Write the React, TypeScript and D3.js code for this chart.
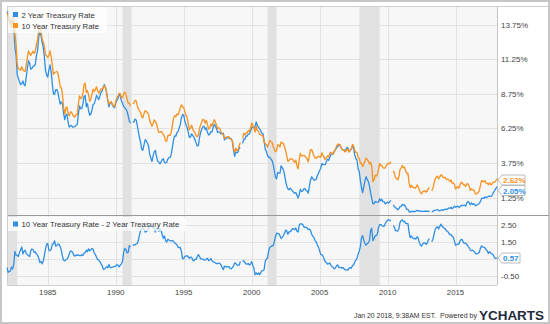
import React from 'react';
import * as d3 from 'd3';

// Monthly values starting January 1982 (null = missing data in the source chart)
const START_YEAR = 1982;
const LAST_DATE = 2018.05;
const t2Monthly: (number | null)[] = [
  14.57, 14.69, 14.06, 14.05, 13.58, 14.36, 13.70, 12.09, 11.59, 10.16, 9.88, 9.64,
  9.40, 9.49, 9.69, 9.42, 9.34, 10.00, 10.60, 11.14, 10.98, 10.53, 10.58, 10.75,
  10.76, 10.90, 11.51, 11.89, 12.83, 13.24, 12.98, 12.48, 12.13, 11.42, 10.45, 10.11,
  9.96, 10.49, 10.85, 10.34, 9.46, 8.75, 8.72, 9.05, 9.06, 8.84, 8.40, 8.02,
  8.16, 8.02, 7.33, 6.89, 7.23, 7.28, 6.68, 6.35, 6.46, 6.45, 6.35, 6.37,
  6.39, 6.49, 6.52, 7.26, 7.89, 7.68, 7.68, 8.03, 8.55, 8.63, 7.82, 8.04,
  7.55, 7.21, 7.30, 7.58, 8.00, 8.03, 8.28, 8.64, 8.49, 8.34, 8.59, 8.87,
  8.95, 9.25, 9.43, 9.18, 8.78, 8.27, 7.81, 8.09, 8.17, 7.97, 7.81, 7.75,
  8.12, 8.27, 8.42, 8.73, 8.60, 8.24, 8.08, 7.83, 7.75, 7.64, 7.51, 7.17,
  6.79, 6.63, null, 6.72, 6.71, 6.93, 6.87, 6.47, 6.03, 5.58, 5.22, 4.74,
  4.68, 5.09, 5.44, 5.35, 5.20, 4.95, 4.38, 4.11, 3.87, 4.27, 4.56, 4.67,
  4.24, 3.88, 3.83, 3.69, 3.85, 4.00, 4.07, 3.81, 3.76, 3.81, 4.04, 4.14,
  4.16, 4.38, 4.87, 5.41, 5.72, 5.69, 5.94, 6.02, 6.28, 6.54, 7.01, 7.26,
  7.24, 6.79, 6.51, 6.34, 5.99, 5.60, 5.64, 5.87, 5.75, 5.62, 5.42, 5.21,
  4.99, 5.03, 5.60, 5.98, 6.21, 6.39, 6.41, 6.17, 6.30, 5.97, 5.78, 5.83,
  6.03, 6.00, 6.33, 6.56, 6.42, 6.24, 5.96, 6.01, 5.96, 5.86, 5.86, 5.91,
  5.43, 5.51, 5.57, 5.58, 5.58, 5.53, 5.51, 5.32, 4.69, 4.24, 4.56, 4.49,
  4.56, 4.84, 4.85, null, 5.17, 5.48, 5.47, 5.71, 5.70, 5.85, 5.86, 6.06,
  6.29, 6.37, 6.28, 6.39, 6.73, 6.48, 6.34, 6.23, 6.08, 5.91, 5.88, 5.35,
  4.76, 4.59, 4.31, 4.16, 4.18, 4.03, 3.94, 3.67, 3.21, 2.74, 2.61, 3.07,
  3.03, 3.02, 3.56, 3.42, 3.26, 2.91, 2.43, 2.10, 1.90, 1.82, 1.94, 1.85,
  1.74, 1.63, 1.57, 1.62, 1.42, 1.23, 1.47, 1.86, 1.70, 1.73, 1.89, 1.91,
  1.76, 1.74, 1.58, 2.07, 2.53, 2.76, 2.64, 2.51, 2.53, 2.58, 2.85, 3.01,
  3.22, 3.38, 3.73, 3.65, 3.64, 3.64, 3.87, 4.04, 3.95, 4.17, 4.39, 4.40,
  4.40, 4.62, 4.72, 4.86, 4.93, 5.09, 5.07, 4.85, 4.73, 4.71, 4.69, 4.67,
  4.88, 4.85, 4.57, 4.67, 4.77, 4.96, 4.82, 4.34, 4.06, 3.97, 3.34, 3.12,
  2.48, 1.97, 1.62, 2.05, 2.45, 2.77, 2.57, 2.42, 2.08, 1.61, 1.21, 0.82,
  0.81, 0.98, 0.93, 0.93, 0.93, 1.18, 1.02, 1.12, 0.96, 0.95, 0.80, 0.87,
  0.93, 0.86, 0.96, 1.06, null, 0.72, 0.62, 0.52, 0.48, 0.38, 0.45, 0.62,
  0.61, 0.77, 0.70, 0.73, 0.56, 0.41, 0.41, 0.23, 0.20, 0.28, 0.25, 0.26,
  0.24, 0.28, 0.34, 0.29, 0.29, 0.29, 0.25, 0.27, 0.26, 0.28, 0.27, 0.26,
  0.27, 0.27, null, 0.23, 0.25, 0.33, 0.34, 0.36, 0.40, 0.34, 0.30, 0.34,
  0.39, 0.33, 0.40, 0.42, 0.39, 0.45, 0.51, 0.47, 0.57, 0.45, 0.53, 0.64,
  0.55, 0.62, 0.64, 0.54, 0.61, 0.69, 0.67, 0.70, 0.71, 0.64, 0.88, 0.98,
  0.90, 0.73, 0.88, 0.77, 0.82, 0.73, 0.67, 0.74, 0.77, 0.84, 0.98, 1.20,
  1.21, 1.20, 1.31, 1.24, 1.30, 1.34, 1.37, 1.34, 1.38, 1.56, 1.70, 1.84,
];
const t10Monthly: (number | null)[] = [
  14.59, 14.43, 13.86, 13.87, 13.62, 14.30, 13.95, 13.06, 12.34, 10.91, 10.55, 10.54,
  10.46, 10.72, 10.51, 10.40, 10.38, 10.85, 11.38, 11.85, 11.65, 11.54, 11.69, 11.83,
  11.67, 11.84, 12.32, 12.63, 13.41, 13.56, 13.36, 12.72, 12.52, 12.16, 11.57, 11.50,
  11.38, 11.51, 11.86, 11.43, 10.85, 10.16, 10.31, 10.33, 10.37, 10.24, 9.78, 9.26,
  9.19, 8.70, 7.78, 7.30, 7.71, 7.80, 7.30, 7.17, 7.45, 7.43, 7.25, 7.11,
  7.08, 7.25, 7.25, 8.02, 8.61, 8.40, 8.45, 8.76, 9.42, 9.52, 8.86, 8.99,
  8.67, 8.21, 8.37, 8.72, 9.09, 8.92, 9.06, 9.26, 8.98, 8.80, 8.96, 9.11,
  9.09, 9.17, 9.36, 9.18, 8.86, 8.28, 8.02, 8.11, 8.19, 8.01, 7.87, 7.84,
  8.21, 8.47, 8.59, 8.79, 8.76, 8.48, 8.47, 8.75, 8.89, 8.72, 8.39, 8.08,
  8.09, 7.85, null, 8.04, 8.07, 8.28, 8.27, 7.90, 7.65, 7.53, 7.42, 7.09,
  7.03, 7.34, 7.54, 7.48, 7.39, 7.26, 6.84, 6.59, 6.42, 6.59, 6.87, 6.77,
  6.60, 6.26, 5.98, 5.97, 6.04, 5.96, 5.81, 5.68, 5.36, 5.33, 5.72, 5.77,
  5.75, 5.97, 6.48, 6.97, 7.18, 7.10, 7.30, 7.24, 7.46, 7.74, 7.96, 7.81,
  7.78, 7.47, 7.20, 7.06, 6.63, 6.17, 6.28, 6.49, 6.20, 6.04, 5.93, 5.71,
  5.65, 5.81, 6.27, 6.51, 6.74, 6.91, 6.87, 6.64, 6.83, 6.53, 6.20, 6.30,
  6.58, 6.42, 6.69, 6.89, 6.71, 6.49, 6.22, 6.30, 6.21, 6.03, 5.88, 5.81,
  5.54, 5.57, 5.65, 5.64, 5.65, 5.50, 5.46, 5.34, 4.81, 4.53, 4.83, 4.65,
  4.72, 5.00, 5.23, null, 5.54, 5.90, 5.79, 5.94, 5.92, 6.11, 6.03, 6.28,
  6.66, 6.52, 6.26, 5.99, 6.44, 6.10, 6.05, 5.83, 5.80, 5.74, 5.72, 5.24,
  5.16, 5.10, 4.89, 5.14, 5.39, 5.28, 5.24, 4.97, 4.73, 4.57, 4.65, 5.09,
  5.04, 4.91, 5.28, 5.21, 5.16, 4.93, 4.65, 4.26, 3.87, 3.94, 4.05, 4.03,
  4.05, 3.90, 3.81, 3.96, 3.57, 3.33, 3.98, 4.45, 4.27, 4.29, 4.30, 4.27,
  4.15, 4.08, 3.83, 4.35, 4.72, 4.73, 4.50, 4.28, 4.13, 4.10, 4.19, 4.23,
  4.22, 4.17, 4.50, 4.34, 4.14, 4.00, 4.18, 4.26, 4.20, 4.46, 4.54, 4.47,
  4.42, 4.57, 4.72, 4.99, 5.11, 5.11, 5.09, 4.88, 4.72, 4.73, 4.60, 4.56,
  4.76, 4.72, 4.56, 4.69, 4.75, 5.10, 5.00, 4.67, 4.52, 4.53, 4.15, 4.10,
  3.74, 3.74, 3.51, 3.68, 3.88, 4.10, 4.01, 3.89, 3.69, 3.81, 3.53, 2.42,
  2.52, 2.87, 2.82, 2.93, 3.29, 3.72, 3.56, 3.59, 3.40, 3.39, 3.40, 3.59,
  3.73, 3.69, 3.73, 3.85, null, 3.20, 3.01, 2.70, 2.65, 2.54, 2.76, 3.29,
  3.39, 3.58, 3.41, 3.46, 3.17, 3.00, 3.00, 2.30, 1.98, 2.15, 2.01, 1.98,
  1.97, 1.97, 2.17, 2.05, 1.80, 1.62, 1.53, 1.68, 1.72, 1.75, 1.65, 1.72,
  1.91, 1.98, null, 1.76, 1.93, 2.30, 2.58, 2.74, 2.81, 2.62, 2.72, 2.90,
  2.86, 2.71, 2.72, 2.71, 2.56, 2.60, 2.54, 2.42, 2.53, 2.30, 2.33, 2.21,
  1.88, 1.98, 2.04, 1.94, 2.20, 2.36, 2.32, 2.17, 2.17, 2.07, 2.26, 2.24,
  2.09, 1.78, 1.89, 1.81, 1.81, 1.64, 1.50, 1.56, 1.63, 1.76, 2.14, 2.49,
  2.43, 2.42, 2.48, 2.30, 2.30, 2.19, 2.32, 2.21, 2.20, 2.36, 2.35, 2.40,
];
const lastT2 = 2.05;
const lastT10 = 2.62;

const recessions: [number, number][] = [
  [1981.5, 1982.75],
  [1990.5, 1991.17],
  [2001.17, 2001.83],
  [2007.92, 2009.42],
];
const xTicks = [1985, 1990, 1995, 2000, 2005, 2010, 2015];
const rateTicks = [1.25, 3.75, 6.25, 8.75, 11.25, 13.75];
const spreadTicks = [-0.5, 0.5, 1.5, 2.5];
// the 0.50 label is covered by the last-value tag in the reference
const spreadLabelTicks = [-0.5, 1.5, 2.5];

const BLUE = '#2f8fe4';
const ORANGE = '#f8911f';
const FONT = '"Liberation Sans", Arial, sans-serif';

type Pt = { x: number; y: number | null };

function buildSeries(vals: (number | null)[], last: number): Pt[] {
  const pts: Pt[] = vals.map((v, i) => ({ x: START_YEAR + i / 12, y: v }));
  pts.push({ x: LAST_DATE, y: last });
  return pts;
}

export default function App() {
  const W = 550, H = 324;
  const L = 7, R = 497, T = 6, MID = 215, B = 285;

  const x = d3.scaleLinear().domain([START_YEAR, 2018.05]).range([L, R]);
  const yTop = d3.scaleLinear().domain([0, 15.1]).range([MID, T]);
  const yBot = d3.scaleLinear().domain([-1.0, 3.1]).range([B, MID]);

  const s2 = buildSeries(t2Monthly, lastT2);
  const s10 = buildSeries(t10Monthly, lastT10);
  const spread: Pt[] = s10.map((p, i) => ({
    x: p.x,
    y: p.y != null && s2[i].y != null ? +(p.y - (s2[i].y as number)).toFixed(2) : null,
  }));

  const lineTop = d3.line<Pt>().defined(d => d.y != null).x(d => x(d.x)).y(d => yTop(d.y as number));
  const lineBot = d3.line<Pt>().defined(d => d.y != null).x(d => x(d.x)).y(d => yBot(d.y as number));

  const endX = x(LAST_DATE);

  const valueTag = (yc: number, text: string, color: string, w: number) => {
    const x0 = endX + 1;
    const h = 10;
    const d = `M${x0},${yc} L${x0 + 4},${yc - h / 2} L${x0 + w},${yc - h / 2} L${x0 + w},${yc + h / 2} L${x0 + 4},${yc + h / 2} Z`;
    return (
      <g>
        <path d={d} fill="#fff" stroke="#a9a9a9" strokeWidth={0.8} />
        <text x={x0 + 5} y={yc + 3} fontSize={8} fontWeight="bold" fill={color} fontFamily={FONT}>{text}</text>
      </g>
    );
  };

  return (
    <svg width={W} height={H} style={{ position: 'absolute', left: 0, top: 0, background: '#fff' }}>
      <rect x={1} y={1} width={W - 2} height={H - 2} fill="#fff" stroke="#c6c6c6" strokeWidth={2} />
      {/* panel backgrounds */}
      <rect x={L} y={T} width={R - L} height={MID - T} fill="#f7f7f7" />
      <rect x={L} y={MID} width={R - L} height={B - MID} fill="#f7f7f7" />
      {/* recession bands */}
      {recessions.map(([a, b], i) => {
        const xa = Math.max(L, x(a));
        const xb = Math.min(R, x(b));
        return <rect key={i} x={xa} y={T} width={xb - xa} height={B - T} fill="#e1e1e1" />;
      })}
      {/* gridlines */}
      {rateTicks.map(t => (
        <line key={'rg' + t} x1={L} x2={R} y1={Math.round(yTop(t)) + 0.5} y2={Math.round(yTop(t)) + 0.5} stroke="#e2e2e2" />
      ))}
      {spreadTicks.map(t => (
        <line key={'sg' + t} x1={L} x2={R} y1={Math.round(yBot(t)) + 0.5} y2={Math.round(yBot(t)) + 0.5} stroke="#e2e2e2" />
      ))}
      {xTicks.map(t => (
        <line key={'xg' + t} x1={Math.round(x(t)) + 0.5} x2={Math.round(x(t)) + 0.5} y1={T} y2={B} stroke="#e2e2e2" />
      ))}
      {/* frame lines */}
      <line x1={L} x2={W - 1} y1={T + 0.5} y2={T + 0.5} stroke="#cfcfcf" />
      <line x1={L} x2={W - 1} y1={MID + 0.5} y2={MID + 0.5} stroke="#9a9a9a" />
      <line x1={L} x2={R} y1={B + 0.5} y2={B + 0.5} stroke="#cfcfcf" />
      <line x1={L + 0.5} x2={L + 0.5} y1={T} y2={B} stroke="#cfcfcf" />
      <line x1={R + 0.5} x2={R + 0.5} y1={T} y2={B} stroke="#c4c4c4" />
      {/* series */}
      <path d={lineTop(s2) || ''} fill="none" stroke={BLUE} strokeWidth={1.3} strokeLinejoin="round" />
      <path d={lineTop(s10) || ''} fill="none" stroke={ORANGE} strokeWidth={1.3} strokeLinejoin="round" />
      <path d={lineBot(spread) || ''} fill="none" stroke={BLUE} strokeWidth={1.3} strokeLinejoin="round" />
      {/* legends */}
      <rect x={L + 1} y={T + 1} width={99} height={26} fill="#fff" fillOpacity={0.72} />
      <rect x={13} y={12} width={5} height={5} fill={BLUE} />
      <text x={21.5} y={17.5} fontSize={7.8} fill="#333" fontFamily={FONT}>2 Year Treasury Rate</text>
      <rect x={13} y={23} width={5} height={5} fill={ORANGE} />
      <text x={21.5} y={28.5} fontSize={7.8} fill="#333" fontFamily={FONT}>10 Year Treasury Rate</text>
      <rect x={L + 1} y={MID + 2} width={178} height={14} fill="#fff" fillOpacity={0.72} />
      <rect x={13} y={221.5} width={5} height={5} fill={BLUE} />
      <text x={21.5} y={227} fontSize={7.8} fill="#333" fontFamily={FONT}>10 Year Treasury Rate - 2 Year Treasury Rate</text>
      {/* right axis labels */}
      {rateTicks.map(t => (
        <text key={'rl' + t} x={501} y={yTop(t) + (t === 1.25 ? 3.8 : 3)} fontSize={8} fill="#444" fontFamily={FONT}>{t.toFixed(2)}%</text>
      ))}
      {spreadLabelTicks.map(t => (
        <text key={'sl' + t} x={501} y={yBot(t) + 3} fontSize={8} fill="#444" fontFamily={FONT}>{t.toFixed(2)}</text>
      ))}
      {/* x labels */}
      {xTicks.map(t => (
        <text key={'xl' + t} x={x(t)} y={295} fontSize={7.8} fill="#444" textAnchor="middle" fontFamily={FONT}>{t}</text>
      ))}
      {/* value tags */}
      {valueTag(180, lastT10.toFixed(2) + '%', ORANGE, 27)}
      {valueTag(190.5, lastT2.toFixed(2) + '%', BLUE, 27)}
      {valueTag(258, (lastT10 - lastT2).toFixed(2), BLUE, 22)}
      {/* footer */}
      <text x={354} y={318} fontSize={6.8} fill="#333" fontFamily={FONT} textLength={82} lengthAdjust="spacingAndGlyphs">Jan 20 2018, 9:38AM EST.</text>
      <text x={440} y={318} fontSize={6.8} fill="#333" fontFamily={FONT} textLength={37} lengthAdjust="spacingAndGlyphs">Powered by</text>
      <text x={479} y={319.5} fontSize={13} fontWeight="bold" fill="#1e2b3c" fontFamily={FONT} textLength={65} lengthAdjust="spacingAndGlyphs">YCHARTS</text>
    </svg>
  );
}
